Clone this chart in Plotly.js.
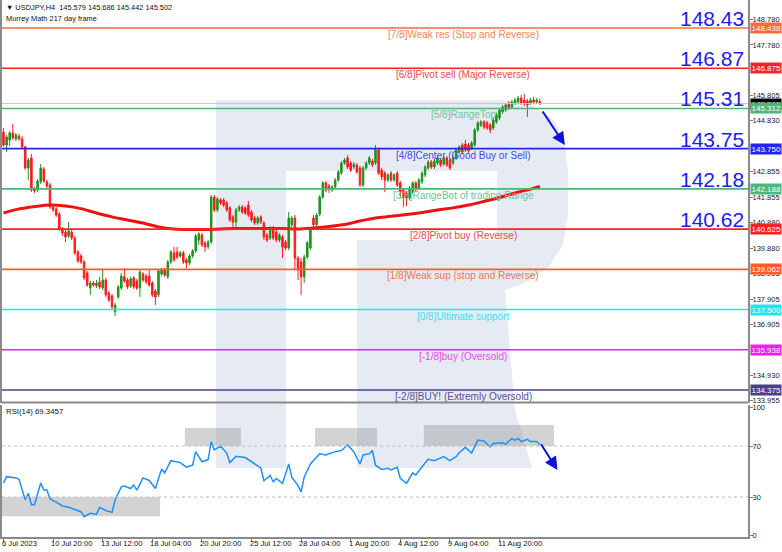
<!DOCTYPE html>
<html><head><meta charset="utf-8">
<script src="https://cdn.plot.ly/plotly-3.0.1.min.js"></script>
<style>html,body{margin:0;padding:0;background:#fff}#c{width:782px;height:552px}</style>
</head><body><div id="c"></div>
<script>
// ---------------- DATA ----------------
const openP = [144.40,143.89,144.09,144.36,144.13,144.24,144.13,143.82,143.00,143.39,142.18,142.14,142.46,142.96,142.46,142.34,141.48,141.41,141.21,140.63,
140.51,140.36,140.51,140.28,139.74,139.58,139.35,138.92,138.34,138.53,138.42,138.57,138.34,138.65,138.14,138.03,137.41,137.99,138.34,138.77,
138.65,138.42,138.73,138.61,138.34,138.88,138.80,138.80,138.53,138.22,138.07,138.88,139.04,138.77,139.35,139.70,139.74,139.58,139.70,139.43,
139.31,139.58,139.78,140.20,140.40,140.09,139.93,140.12,141.87,141.37,141.76,141.76,141.64,141.45,141.10,140.90,141.37,141.48,141.45,141.56,
141.29,141.06,140.86,141.10,140.86,140.40,140.28,140.67,140.51,140.20,140.32,140.12,139.89,140.79,141.06,139.50,139.35,138.77,139.54,139.89,
141.06,140.79,141.21,141.87,142.42,142.30,142.14,142.26,142.53,142.80,143.19,143.39,143.19,143.04,143.12,143.00,142.34,143.00,143.19,143.27,
143.19,143.70,142.92,142.80,142.53,142.80,142.53,142.80,142.42,142.14,142.03,141.83,142.07,142.42,142.22,142.46,142.73,143.00,143.23,143.04,
143.19,143.31,143.15,143.39,143.31,143.19,143.39,143.62,143.89,143.93,143.89,143.78,143.89,144.48,144.67,144.79,144.75,144.67,144.55,144.79,
144.94,145.18,145.25,145.52,145.37,145.52,145.56,145.72,145.64,145.60,145.52,145.64,145.56,145.579];
const highP = [144.55,144.28,144.44,144.71,144.36,144.32,144.24,143.85,143.39,143.54,142.26,142.57,143.15,143.04,142.53,142.42,141.56,141.48,141.29,140.71,
140.63,140.90,140.59,140.36,139.81,139.66,139.43,139.00,138.61,138.61,138.65,138.77,139.04,138.73,138.22,138.10,137.76,138.45,138.92,139.11,
138.73,138.77,138.80,138.69,139.04,138.96,138.88,139.04,138.61,138.30,139.08,139.11,139.11,139.43,139.81,139.93,139.93,139.78,139.78,139.50,
139.66,139.85,140.44,140.51,140.47,140.16,140.20,141.95,141.95,141.87,141.83,141.83,141.72,141.52,141.17,141.45,141.56,141.56,141.52,141.72,
141.37,141.13,141.13,141.17,140.94,140.47,140.75,140.75,140.59,140.47,140.40,140.20,141.29,141.13,141.17,139.58,139.50,139.62,140.16,140.67,
141.17,141.25,141.95,142.49,142.49,142.38,142.34,142.61,142.92,143.27,143.39,143.50,143.27,143.23,143.19,143.08,143.08,143.27,143.47,143.35,
143.89,143.78,143.00,142.88,142.80,142.88,142.80,142.88,142.49,142.22,142.11,142.30,142.49,142.49,142.61,142.88,143.12,143.31,143.31,143.35,
143.47,143.39,143.47,143.47,143.39,143.47,143.78,143.89,143.97,144.09,143.97,144.05,144.55,144.83,144.86,144.86,144.83,144.75,144.94,145.14,
145.33,145.45,145.52,145.60,145.64,145.72,145.80,145.84,145.87,145.68,145.72,145.76,145.72,145.686];
const lowP = [143.82,143.62,143.85,144.09,144.05,144.05,143.74,142.92,142.53,142.07,142.03,142.07,142.38,142.42,142.22,141.41,141.29,141.10,140.55,140.36,
140.12,140.28,140.20,139.62,139.31,139.27,138.65,138.38,138.07,138.38,138.34,138.30,138.26,137.99,137.79,137.52,137.25,137.91,138.26,138.53,
138.30,138.34,138.30,138.26,137.99,138.57,138.49,138.38,137.99,137.68,137.99,138.80,138.77,138.69,139.27,139.35,139.46,139.50,139.27,139.11,
139.23,139.50,139.70,140.01,139.93,139.74,139.85,140.05,141.29,141.29,141.56,141.48,141.29,140.90,140.71,140.71,141.29,141.21,141.17,141.10,
140.90,140.79,140.79,140.82,140.20,140.12,140.20,140.20,140.12,140.12,139.50,139.81,139.81,140.71,139.04,138.65,138.07,138.53,139.46,139.81,
140.67,140.71,141.13,141.80,142.07,142.03,142.07,142.18,142.46,142.73,143.12,142.96,142.84,142.96,142.77,142.26,142.26,142.92,143.12,143.04,
143.12,142.73,142.53,142.07,142.46,142.46,142.46,142.26,141.83,141.48,141.52,141.76,141.99,142.07,142.14,142.38,142.65,142.92,142.96,142.96,
143.12,143.04,143.08,143.04,142.92,143.12,143.31,143.54,143.54,143.62,143.58,143.70,143.82,144.40,144.59,144.51,144.48,144.36,144.48,144.71,
144.86,145.10,145.18,145.25,145.29,145.45,145.49,145.45,145.41,144.98,145.45,145.49,145.49,145.442];
const closeP = [143.89,144.20,144.36,144.17,144.28,144.13,143.82,143.00,143.31,142.14,142.11,142.49,143.00,142.49,142.30,141.48,141.37,141.17,140.63,140.47,
140.32,140.55,140.28,139.70,139.39,139.35,138.73,138.45,138.53,138.45,138.53,138.38,138.65,138.07,137.87,137.60,137.68,138.38,138.80,138.61,
138.38,138.69,138.38,138.34,138.96,138.65,138.57,138.45,138.07,137.99,139.00,139.04,138.84,139.35,139.74,139.43,139.54,139.70,139.35,139.31,
139.58,139.78,140.36,140.44,140.01,139.93,140.12,141.87,141.37,141.80,141.64,141.56,141.37,140.98,140.90,141.37,141.48,141.29,141.25,141.17,
140.98,140.86,141.06,140.90,140.32,140.20,140.67,140.28,140.20,140.40,139.93,139.89,141.06,141.06,139.50,139.04,138.77,139.54,140.09,140.59,
140.79,141.17,141.87,142.42,142.14,142.18,142.26,142.53,142.84,143.19,143.31,143.04,142.92,143.15,142.84,142.34,143.00,143.19,143.39,143.12,
143.70,142.80,142.65,142.53,142.73,142.53,142.73,142.34,142.07,141.87,141.83,142.22,142.42,142.22,142.53,142.80,143.04,143.23,143.04,143.27,
143.39,143.12,143.39,143.12,143.00,143.39,143.70,143.82,143.62,143.70,143.66,143.97,144.48,144.75,144.79,144.59,144.55,144.48,144.86,145.06,
145.25,145.37,145.45,145.33,145.56,145.64,145.72,145.52,145.52,145.45,145.64,145.56,145.64,145.502];

// moving average (read every few bars)
const maIdx = [0,5,10,15,20,25,30,35,40,45,50,55,60,65,70,75,80,85,90,95,100,105,110,115,120,125,130,135,140,145,150,155,160,165,170,173];
const maVal = [141.25,141.41,141.50,141.56,141.52,141.42,141.25,141.10,140.98,140.86,140.71,140.63,140.61,140.61,140.63,140.65,140.65,140.65,140.65,140.63,
140.67,140.73,140.80,140.94,141.06,141.12,141.19,141.27,141.37,141.45,141.56,141.70,141.85,142.03,142.18,142.28];

// RSI(14)
const rsiIdx = [0,1,4,5,7,8,9,10,12,13,14,15,17,19,21,23,25,26,28,30,31,33,35,36,38,39,41,42,43,45,47,49,51,52,54,57,59,61,62,64,66,67,68,70,72,73,75,78,81,83,84,86,87,88,90,92,93,95,96,97,99,102,104,107,109,111,113,115,116,118,119,120,122,124,125,127,128,130,132,133,135,137,139,141,142,144,146,147,149,151,153,155,157,158,161,162,164,165,166,167,169,170,172,173];
const rsiVal = [41,46,45,44,28,33,24,24,41,35.5,35.5,28.5,26,23,22,20,18.5,14.6,17.2,16.6,22,19.5,18,27.7,38,38.7,36.7,39.5,35.5,45,43,36.7,52,49,58.5,57,53.5,55,65.6,57.7,59.4,73.4,67,70,64.5,57,62,61,56,52.8,42.8,47,42,44.6,40.6,56,45.6,39,34,45.6,56,64,63,65.6,66.5,70.8,65.6,55.9,63,64,66.5,55,51.7,52.5,51.2,53.3,44.7,40.8,49,47.3,53.8,59.6,58.5,61,61.7,58.5,61.7,64.8,69,64.5,74.7,74,69.3,72,72.5,71.5,76,74.4,76,73.5,75.3,73.5,73.5,71];

// Murrey Math levels
const mmLevels = [148.438,146.875,145.312,143.750,142.188,140.625,139.062,137.500,135.938,134.375];
const mmLabels = ['[7/8]Weak res (Stop and Reverse)','[6/8]Pivot sell (Major Reverse)','[5/8]RangeTop','[4/8]Center (Good Buy or Sell)',
 '[3/8]RangeBot of trading Range','[2/8]Pivot buy (Reverse)','[1/8]Weak sup (stop and Reverse)','[0/8]Ultimate support','[-1/8]buy (Oversold)','[-2/8]BUY! (Extremly Oversold)'];
const mmTags = ['148.438','146.875','145.312','143.750','142.188','140.625','139.062','137.500','135.938','134.375'];
const bigNums = ['148.43','146.87','145.31','143.75','142.18','140.62'];
const lastPrice = 145.502;

// axis ticks (the ones not hidden behind level tags)
const priceTicks = [148.780,147.780,145.805,144.830,142.855,141.855,140.880,139.880,138.905,137.905,136.905,134.930,133.955];
const xTickIdx = [0,16,32,48,64,80,96,112,128,144,160];
const xTickText = ['6 Jul 2023','10 Jul 20:00','13 Jul 12:00','18 Jul 04:00','20 Jul 20:00','25 Jul 12:00','28 Jul 04:00','1 Aug 20:00','4 Aug 12:00','9 Aug 04:00','11 Aug 20:00'];
const rsiTicks = [0,30,70,100];

// ---------------- STYLE / LAYOUT ----------------
const FONT = 'Liberation Sans, Arial, sans-serif';
const mmColors = ['#ff6a3a','#f52424','#4fb57a','#2424ee','#4fb57a','#f52424','#ff5a28','#22e4ef','#f01ef0','#4a3f8f'];
const mmText   = ['#f2845e','#ec4a4a','#6fc295','#4848e4','#6fc295','#ec4a4a','#f27450','#3ee0ee','#ee48ee','#5a5090'];
const px = x => (x - 2) / 746;
const py = y => (537 - y) / 537;

const idx = closeP.map((_, i) => i);

const traces = [
  {type:'candlestick', x: idx, open: openP, high: highP, low: lowP, close: closeP, xaxis:'x', yaxis:'y',
   increasing:{line:{color:'#1f931f', width:1}, fillcolor:'#1f931f'},
   decreasing:{line:{color:'#ff1c1c', width:1}, fillcolor:'#ff1c1c'},
   whiskerwidth:0, hoverinfo:'skip', showlegend:false},
  {type:'scatter', mode:'lines', x: maIdx, y: maVal, xaxis:'x', yaxis:'y',
   line:{color:'#ee1111', width:3, shape:'spline'}, hoverinfo:'skip', showlegend:false},
  {type:'scatter', mode:'lines', x: rsiIdx, y: rsiVal, xaxis:'x', yaxis:'y2',
   line:{color:'#1e8fff', width:1.5}, hoverinfo:'skip', showlegend:false}
];

const shapes = [];
// watermark logo (paper coords)
const logoPts = (pts) => 'M' + pts.map(p => px(p[0]).toFixed(4) + ',' + py(p[1]).toFixed(4)).join(' L') + ' Z';
shapes.push({type:'path', xref:'paper', yref:'paper', layer:'below', line:{width:0}, fillcolor:'#e6ebf3',
  path: logoPts([[216,100],[286,100],[286,468],[216,468]])});
shapes.push({type:'path', xref:'paper', yref:'paper', layer:'below', line:{width:0}, fillcolor:'#e6ebf3',
  path: logoPts([[286,100],[500,100],[530,104],[552,118],[564,140],[568,170],[568,215],[563,245],[548,268],[525,283],[505,290],[515,410],[532,468],[357,468],[357,240],[497,240],[497,171],[286,171]])});

// RSI shaded boxes
[[-0.48,50.5,15,30],[58.5,76.6,70,84.2],[100.5,120.5,70,84.2],[135.6,177.6,70,86.5]].forEach(b => {
  shapes.push({type:'rect', xref:'x', yref:'y2', x0:b[0], x1:b[1], y0:b[2], y1:b[3], layer:'below',
    line:{width:0}, fillcolor:'rgba(150,150,150,0.42)'});
});
// RSI 30/70 dotted
[30,70].forEach(v => shapes.push({type:'line', xref:'paper', yref:'y2', x0:0, x1:1, y0:v, y1:v,
  line:{color:'#bdbdbd', width:1, dash:'dot'}}));
// last price line
shapes.push({type:'line', xref:'paper', yref:'y', x0:0, x1:1, y0:lastPrice, y1:lastPrice, line:{color:'#c8c8c8', width:1}});
// Murrey lines
mmLevels.forEach((v,i) => shapes.push({type:'line', xref:'paper', yref:'y', x0:0, x1:1, y0:v, y1:v,
  line:{color:mmColors[i], width:1.6}}));
// panel separator
shapes.push({type:'line', xref:'paper', yref:'paper', x0:0, x1:1, y0:py(402.5), y1:py(402.5), line:{color:'#8a8a8a', width:2}});

const ann = [];
// header texts
ann.push({xref:'paper', yref:'paper', x:px(4), y:py(7), xanchor:'left', yanchor:'middle', showarrow:false,
  text:'\u25BC USDJPY,H4  145.579 145.686 145.442 145.502', font:{family:FONT, size:7.4, color:'#111'}});
ann.push({xref:'paper', yref:'paper', x:px(4), y:py(18.5), xanchor:'left', yanchor:'middle', showarrow:false,
  text:'Murrey Math 217 day frame', font:{family:FONT, size:7.4, color:'#111'}});
ann.push({xref:'paper', yref:'paper', x:px(4), y:py(411), xanchor:'left', yanchor:'middle', showarrow:false,
  text:'RSI(14) 69.3457', font:{family:FONT, size:7.8, color:'#111'}});
// Murrey level labels
mmLevels.forEach((v,i) => ann.push({xref:'paper', yref:'y', x:px(463), y:v, xanchor:'center', yanchor:'top', yshift:1,
  showarrow:false, text:mmLabels[i], font:{family:FONT, size:10, color:mmText[i]}}));
// big blue numbers
bigNums.forEach((t,i) => ann.push({xref:'paper', yref:'y', x:px(746), y:mmLevels[i], xanchor:'right', yanchor:'bottom', yshift:-4,
  showarrow:false, text:t, font:{family:FONT, size:21, color:'#1c1cf2'}}));
// price tags on right axis
ann.push({xref:'paper', yref:'y', x:1, xshift:2, y:lastPrice, xanchor:'left', yanchor:'middle', showarrow:false,
  text:'145.502', bgcolor:'#000', borderpad:0.5, font:{family:FONT, size:8, color:'#fff'}});
mmLevels.forEach((v,i) => ann.push({xref:'paper', yref:'y', x:1, xshift:2, y:v, xanchor:'left', yanchor:'middle', showarrow:false,
  text:mmTags[i], bgcolor:mmColors[i], borderpad:0.5, font:{family:FONT, size:8, color:'#fff'}}));
// x tick labels
xTickIdx.forEach((v,i) => ann.push({xref:'x', yref:'paper', x:v, y:py(543), xanchor:'left', yanchor:'middle', xshift:-4,
  showarrow:false, text:xTickText[i], font:{family:FONT, size:7.6, color:'#111'}}));
// arrows
ann.push({xref:'x', yref:'y', axref:'x', ayref:'y', x:181.1, y:143.89, ax:173.6, ay:145.25, showarrow:true,
  arrowhead:2, arrowsize:1.3, arrowwidth:2, arrowcolor:'#1010dd', text:''});
ann.push({xref:'x', yref:'y2', axref:'x', ayref:'y2', x:178.7, y:51.2, ax:173.1, ay:72.6, showarrow:true,
  arrowhead:2, arrowsize:1.3, arrowwidth:2, arrowcolor:'#1010dd', text:''});

const layout = {
  width:782, height:552, margin:{l:2, r:34, t:0, b:15},
  paper_bgcolor:'#fff', plot_bgcolor:'rgba(0,0,0,0)', showlegend:false,
  xaxis:{range:[-0.484, 240.16], anchor:'y2', showgrid:false, zeroline:false, rangeslider:{visible:false},
    tickvals:xTickIdx, ticktext:xTickText.map(()=>''), ticks:'outside', ticklen:3, tickcolor:'#777',
    showline:true, linecolor:'#8a8a8a', linewidth:2, fixedrange:true},
  yaxis:{domain:[py(403), 1], range:[133.869, 149.526], side:'right', showgrid:false, zeroline:false,
    tickvals:priceTicks, ticktext:priceTicks.map(v=>v.toFixed(3)), ticks:'outside', ticklen:3, tickcolor:'#777',
    ticklabelstandoff:-2,
    tickfont:{family:FONT, size:7.5, color:'#222'}, showline:true, mirror:true, linecolor:'#8a8a8a', linewidth:2},
  yaxis2:{domain:[0, py(405)], range:[-1.33, 102.2], side:'right', showgrid:false, zeroline:false,
    tickvals:rsiTicks, ticktext:rsiTicks.map(String), ticks:'outside', ticklen:3, tickcolor:'#777',
    ticklabelstandoff:-2,
    tickfont:{family:FONT, size:7.5, color:'#222'}, showline:true, mirror:true, linecolor:'#8a8a8a', linewidth:2},
  shapes:shapes, annotations:ann
};
Plotly.newPlot('c', traces, layout, {staticPlot:true, displayModeBar:false});
</script></body></html>
